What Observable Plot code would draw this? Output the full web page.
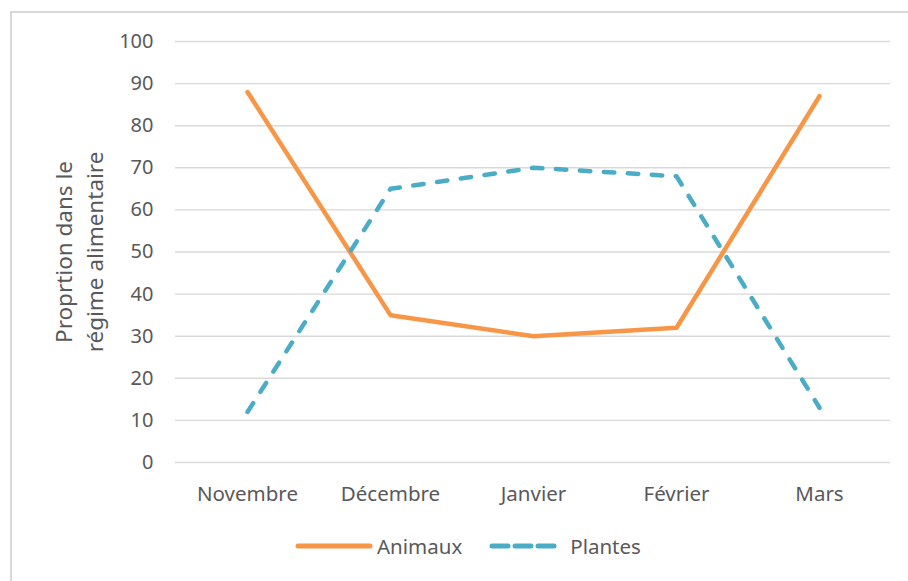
<!DOCTYPE html>
<html>
<head>
<meta charset="utf-8">
<script src="https://cdn.jsdelivr.net/npm/d3@7"></script>
<script src="https://cdn.jsdelivr.net/npm/@observablehq/plot@0.6"></script>
<style>
  html, body { margin: 0; padding: 0; background: #fff; }
  body { width: 908px; height: 581px; overflow: hidden; position: relative; font-family: "Noto Sans", sans-serif; }
  #frame { position: absolute; left: 10px; top: 11px; width: 1000px; height: 700px; border-left: 2px solid #d9d9d9; border-top: 2px solid #d9d9d9; box-sizing: border-box; }
  #chart { position: absolute; left: 0; top: 0; }
  #legend { position: absolute; left: 295px; top: 532px; display: flex; align-items: center; font-size: 20.5px; color: #595959; }
  .item { display: flex; align-items: center; }
</style>
</head>
<body>
<div id="frame"></div>
<div id="chart"></div>
<div id="legend"></div>
<script>
const months = ["Novembre", "Décembre", "Janvier", "Février", "Mars"];
const animaux = [88, 35, 30, 32, 87];
const plantes = [12, 65, 70, 68, 13];
const yTicks = [0, 10, 20, 30, 40, 50, 60, 70, 80, 90, 100];
const yLabel = "Proprtion dans le\nrégime alimentaire";
const seriesNames = ["Animaux", "Plantes"];
const colors = ["#f79646", "#4bacc6"];
const dashes = [null, "10.5,13.5"];

const rowsA = months.map((m, i) => ({month: m, value: animaux[i]}));
const rowsP = months.map((m, i) => ({month: m, value: plantes[i]}));

const chart = Plot.plot({
  width: 908,
  height: 520,
  marginTop: 41,
  marginBottom: 58,
  marginLeft: 175,
  marginRight: 18,
  style: {fontFamily: "Noto Sans, sans-serif", fontSize: "20px", color: "#595959", background: "transparent"},
  x: {type: "point", domain: months, padding: 0.5, label: null},
  y: {domain: [0, 100], label: null},
  marks: [
    Plot.ruleY(yTicks, {stroke: "#d9d9d9", strokeWidth: 1.4}),
    Plot.axisY({ticks: yTicks, tickSize: 0, tickPadding: 22, fontSize: 20, fill: "#595959", label: null}),
    Plot.axisX({tickSize: 0, tickPadding: 24, fontSize: 20.5, fill: "#595959", label: null}),
    Plot.text([yLabel], {frameAnchor: "left", rotate: -90, dx: -98, fontSize: 22.5, lineHeight: 1.4, fill: "#595959", textAnchor: "middle"}),
    Plot.line(rowsA, {x: "month", y: "value", stroke: colors[0], strokeWidth: 4.5, strokeLinecap: "round", strokeLinejoin: "round"}),
    Plot.line(rowsP, {x: "month", y: "value", stroke: colors[1], strokeWidth: 4.5, strokeDasharray: dashes[1], strokeLinecap: "round", strokeLinejoin: "round"})
  ]
});
document.getElementById("chart").appendChild(chart);

const legend = document.getElementById("legend");
seriesNames.forEach((name, i) => {
  const item = document.createElement("div");
  item.className = "item";
  if (i > 0) item.style.marginLeft = "27px";
  const w = i === 0 ? 78 : 72;
  const dash = dashes[i] ? `stroke-dasharray="16,7"` : "";
  item.innerHTML = `<svg width="${w}" height="10" style="margin-right:${i === 0 ? 4 : 9}px"><line x1="3" y1="5" x2="${w - 3}" y2="5" stroke="${colors[i]}" stroke-width="5" stroke-linecap="round" ${dash}/></svg><span>${name}</span>`;
  legend.appendChild(item);
});
</script>
</body>
</html>
